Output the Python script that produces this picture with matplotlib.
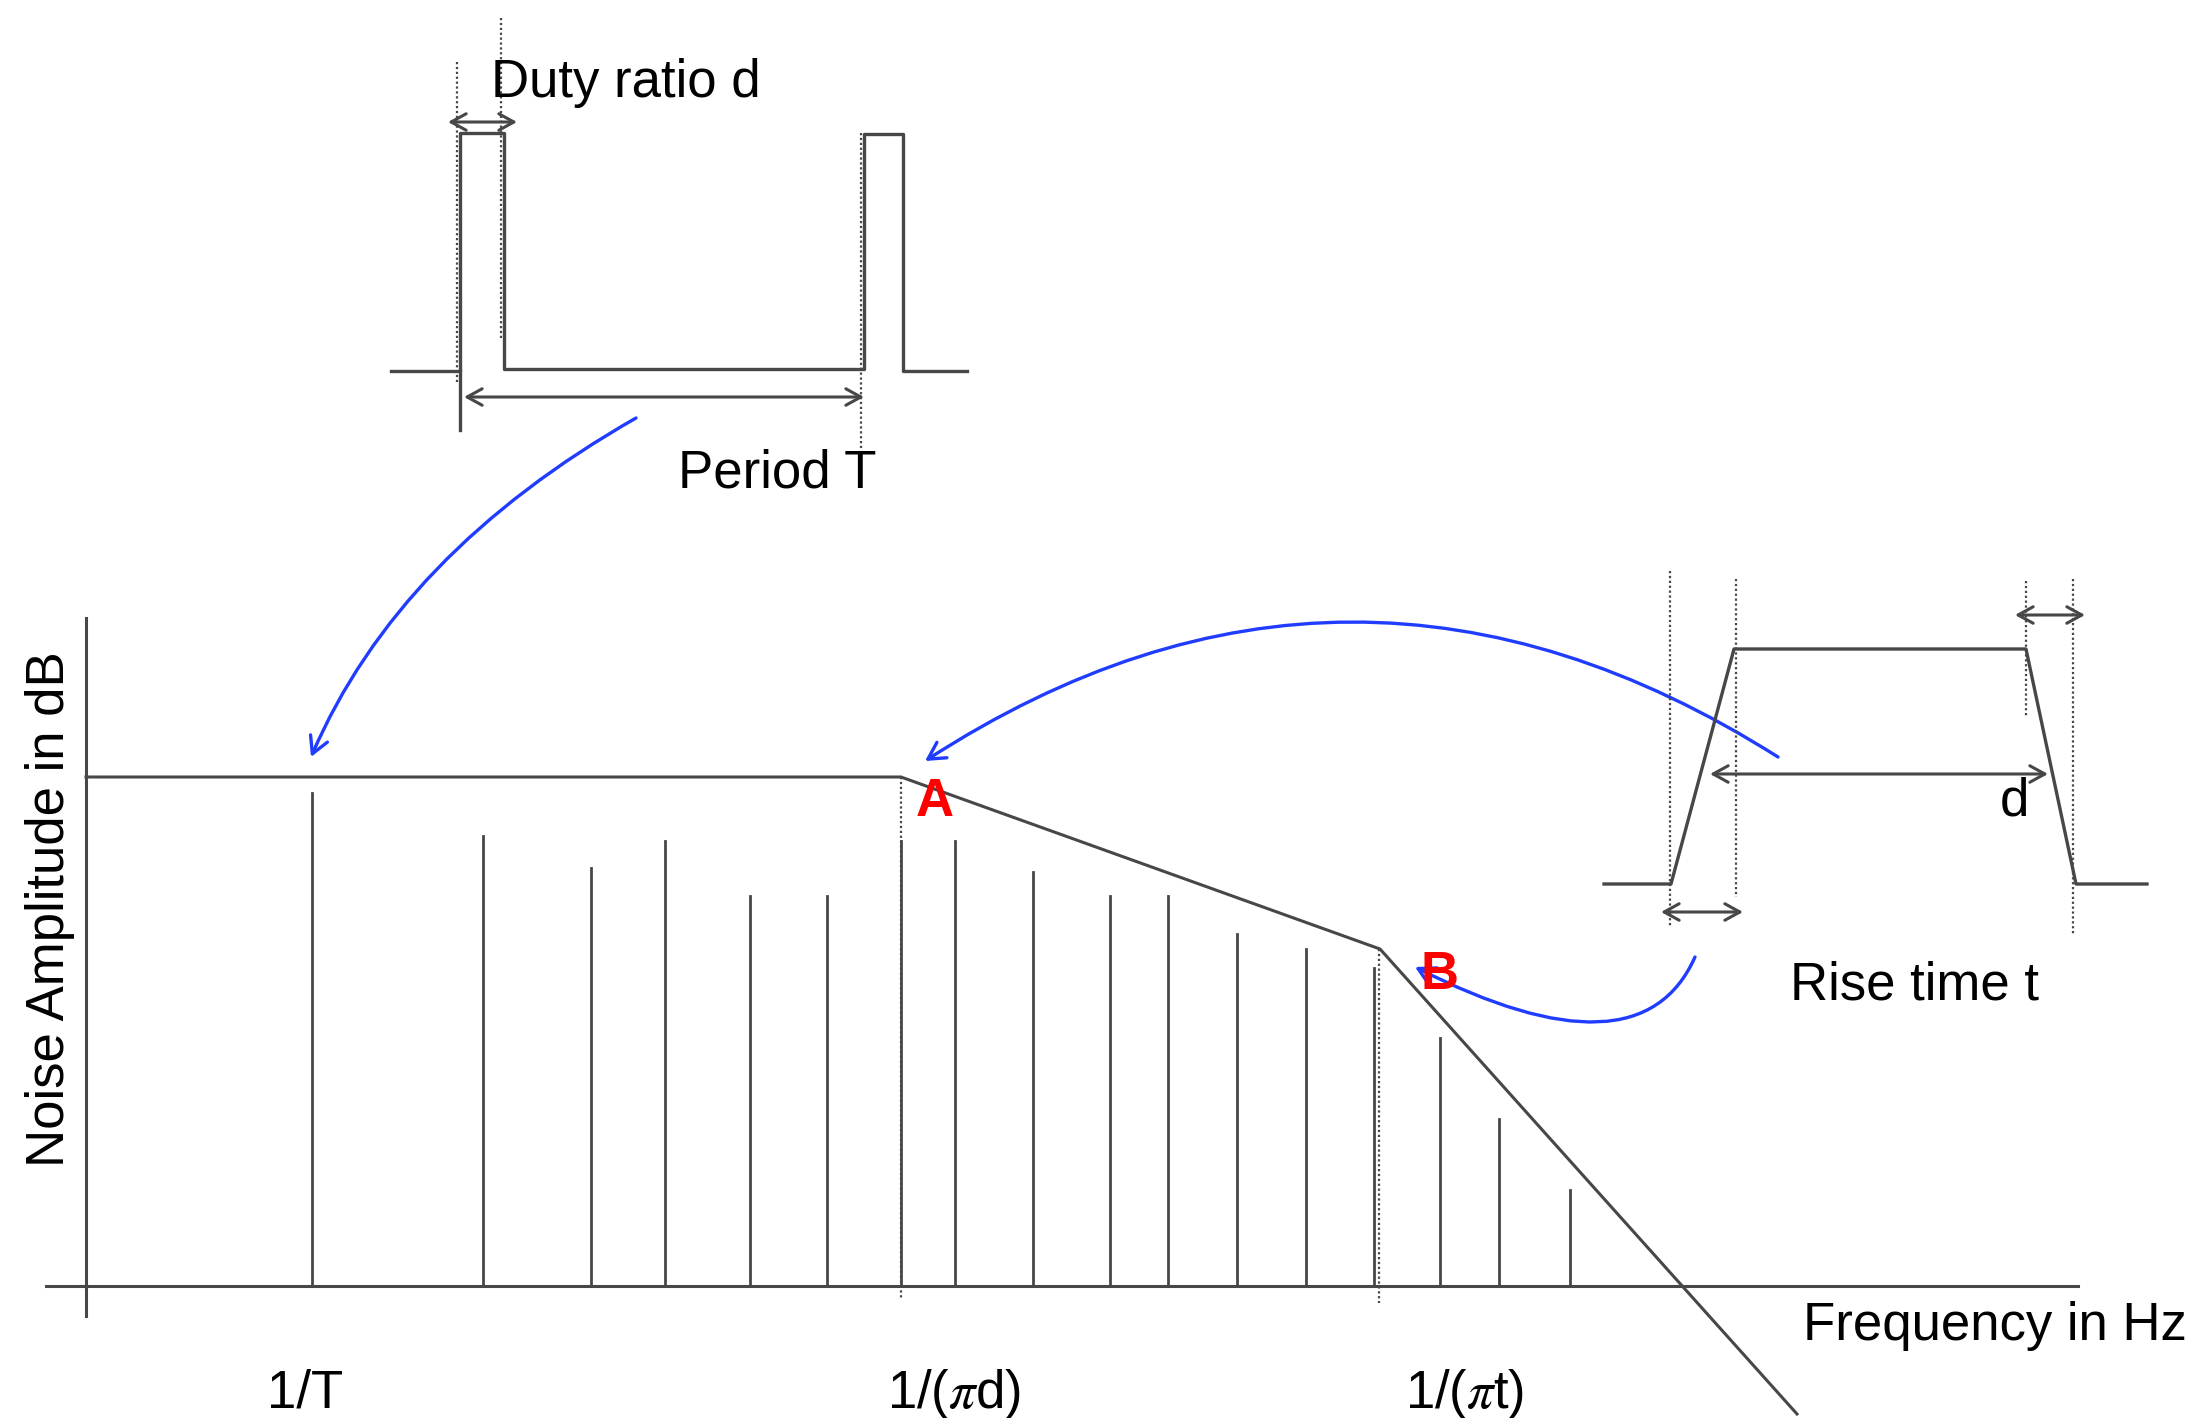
import matplotlib
matplotlib.use("Agg")
import matplotlib.pyplot as plt
from matplotlib.patches import FancyArrowPatch
from matplotlib.path import Path

plt.rcParams['font.family'] = ['Liberation Sans', 'DejaVu Sans']
plt.rcParams['mathtext.fontset'] = 'stix'

# ---------------- data (drawing units: figure pixels, y downward) ----------------
baseline_y = 1286
# spectral lines (harmonics): frequency position and amplitude above baseline
harmonic_freq = [312, 483, 591, 665, 750, 827, 901, 955, 1033, 1110, 1168,
                 1237, 1306, 1374, 1440, 1499, 1570]
harmonic_amp = [493, 450, 418, 445, 390, 390, 445, 445, 414, 390, 390,
                352, 337, 318, 248, 167, 96]
# envelope: flat, -20 dB/dec after A, -40 dB/dec after B
envelope_freq = [86, 901, 1380, 1797]
envelope_amp = [509, 509, 337, -128]
corner_freq = [901, 1380]
tick_labels = ['1/T', r'1/($\pi$d)', r'1/($\pi$t)']
tick_label_x = [267, 887, 1405]

# rectangular pulse train (top inset)
pulse_x = [391, 460, 460, 504, 504, 864, 864, 903, 903, 967]
pulse_y = [371, 371, 133, 133, 369, 369, 134, 134, 371, 371]
# trapezoidal pulse (right inset)
trap_x = [1604, 1671, 1734, 2026, 2076, 2147]
trap_y = [884, 884, 649, 649, 884, 884]

GRAY = '#474747'
BLUE = '#1f3cff'
RED = '#ff0000'
FS = 38
DOT = (0, (1.0, 1.2))

fig = plt.figure(figsize=(21.97, 14.18), dpi=100)
ax = fig.add_axes([0, 0, 1, 1])
ax.set_xlim(0, 2197)
ax.set_ylim(1418, 0)
ax.axis('off')

# ---------------- main spectrum ----------------
ax.plot([86, 86], [618, 1316], color=GRAY, lw=2.2)
ax.plot([46, 2078], [baseline_y, baseline_y], color=GRAY, lw=2.2)

for f, a in zip(harmonic_freq, harmonic_amp):
    ax.plot([f, f], [baseline_y, baseline_y - a], color=GRAY, lw=2.0)

ax.plot(envelope_freq, [baseline_y - a for a in envelope_amp], color=GRAY, lw=2.2)

# dotted markers at corner frequencies
ax.plot([corner_freq[0]] * 2, [baseline_y - envelope_amp[1], 1299], color=GRAY, lw=1.6, ls=DOT)
ax.plot([corner_freq[1] - 1] * 2, [baseline_y - envelope_amp[2], 1303], color=GRAY, lw=1.6, ls=DOT)

for lbl, x in zip(tick_labels, tick_label_x):
    ax.text(x, 1408, lbl, fontsize=FS, ha='left', va='baseline', color='black')

ax.text(1803, 1340, 'Frequency in Hz', fontsize=FS, ha='left', va='baseline')
ax.text(64, 909, 'Noise Amplitude in dB', fontsize=FS, rotation=90,
        ha='center', va='baseline', rotation_mode='anchor')

ax.text(935, 816, 'A', fontsize=FS, fontweight='bold', color=RED, ha='center', va='baseline', zorder=5)
ax.text(1439, 989, 'B', fontsize=FS, fontweight='bold', color=RED, ha='center', va='baseline', zorder=5)

# ---------------- top inset: rectangular pulses ----------------
ax.plot(pulse_x, pulse_y, color=GRAY, lw=2.4)
ax.plot([460, 460], [371, 430], color=GRAY, lw=2.4)
for x, y0, y1 in [(457, 62, 382), (501, 18, 338), (861, 133, 448)]:
    ax.plot([x, x], [y0, y1], color=GRAY, lw=1.6, ls=DOT)


def dbl_arrow(x0, x1, y):
    ax.add_patch(FancyArrowPatch((x0, y), (x1, y),
                                 arrowstyle='<->,head_length=0.4,head_width=0.22',
                                 mutation_scale=27, color=GRAY, lw=2.2,
                                 shrinkA=0, shrinkB=0))


dbl_arrow(448, 517, 122)
dbl_arrow(464, 864, 397)
ax.text(491, 97, 'Duty ratio d', fontsize=FS, ha='left', va='baseline')
ax.text(678, 488, 'Period T', fontsize=FS, ha='left', va='baseline')

# ---------------- right inset: trapezoidal pulse ----------------
ax.plot(trap_x, trap_y, color=GRAY, lw=2.4)
for x, y0, y1 in [(1670, 571, 927), (1736, 579, 897), (2026, 581, 717), (2073, 579, 935)]:
    ax.plot([x, x], [y0, y1], color=GRAY, lw=1.6, ls=DOT)
dbl_arrow(2015, 2085, 615)
dbl_arrow(1710, 2048, 774)
dbl_arrow(1661, 1743, 912)
ax.text(2000, 815, 'd', fontsize=FS, ha='left', va='baseline')
ax.text(1790, 1000, 'Rise time t', fontsize=FS, ha='left', va='baseline')

# ---------------- blue curved arrows ----------------
def curved_arrow(p0, c, p1):
    path = Path([p0, c, p1], [Path.MOVETO, Path.CURVE3, Path.CURVE3])
    ax.add_patch(FancyArrowPatch(path=path,
                                 arrowstyle='->,head_length=0.4,head_width=0.22',
                                 mutation_scale=30, color=BLUE, lw=2.4))


curved_arrow((636, 418), (399, 553), (311, 757))
curved_arrow((1778, 757), (1350, 486), (925, 761))
curved_arrow((1695, 957), (1640, 1081), (1415, 967))

fig.savefig('out.png', dpi=100)
